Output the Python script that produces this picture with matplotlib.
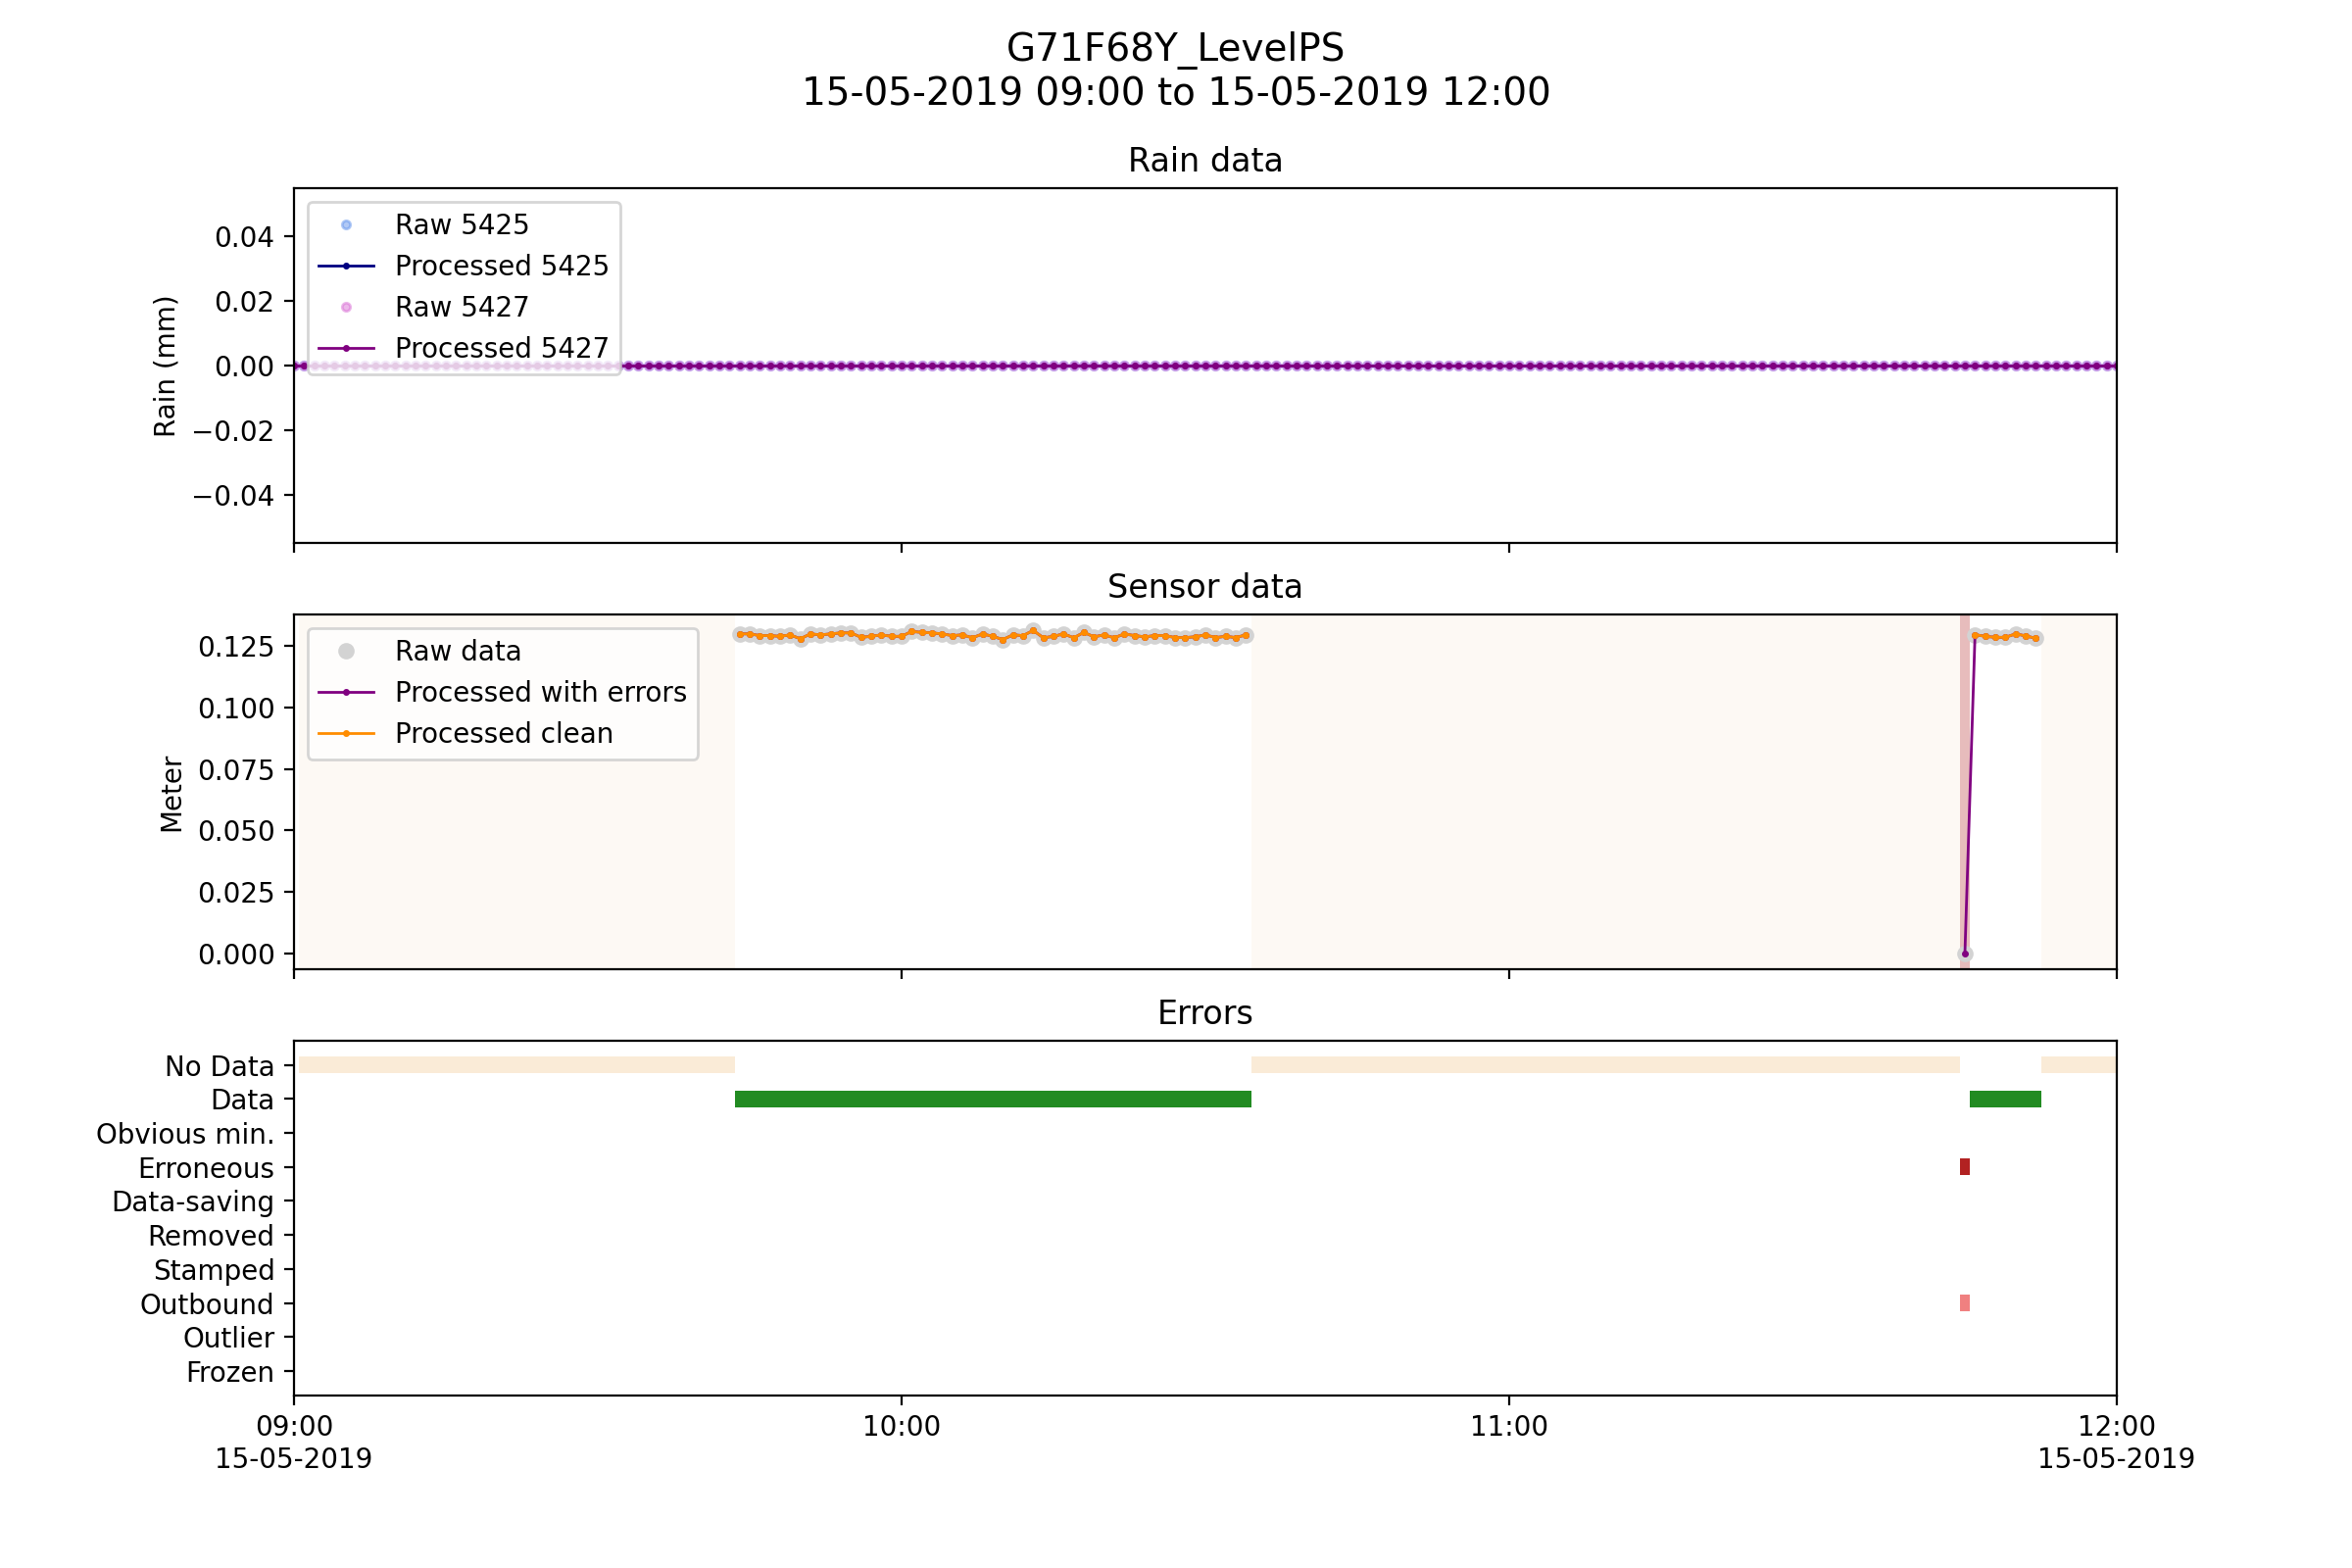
import numpy as np
import pandas as pd
import matplotlib
matplotlib.use("Agg")
import matplotlib.pyplot as plt
import matplotlib.dates as mdates

# ------------------------------------------------------| Data
day = "2019-05-15"
t_start = pd.Timestamp(day + " 09:00")
t_end = pd.Timestamp(day + " 12:00")

# Rain gauges, one sample per minute, no rain in the window
rain_times = pd.date_range(t_start, t_end, freq="1min")
rain_raw_5425 = np.zeros(len(rain_times))
rain_proc_5425 = np.zeros(len(rain_times))
rain_raw_5427 = np.zeros(len(rain_times))
rain_proc_5427 = np.zeros(len(rain_times))

# Level sensor, one sample per minute
sensor_times = pd.date_range(day + " 09:01", t_end, freq="1min")

seg1_start = day + " 09:44"
seg1_values = [0.1299, 0.1299, 0.1292, 0.1292, 0.1289, 0.1295, 0.1279, 0.1299,
               0.1295, 0.1299, 0.1303, 0.1303, 0.1285, 0.1289, 0.1295, 0.1289,
               0.1289, 0.1309, 0.1305, 0.1303, 0.1299, 0.1292, 0.1295, 0.1283,
               0.1299, 0.1289, 0.1276, 0.1295, 0.1292, 0.1313, 0.1283, 0.1289,
               0.1299, 0.1283, 0.1305, 0.1287, 0.1295, 0.1283, 0.1299, 0.1292,
               0.1287, 0.1292, 0.1292, 0.1284, 0.1284, 0.1287, 0.1295, 0.1284,
               0.1289, 0.1284, 0.1295]

seg2_start = day + " 11:45"
seg2_values = [0.0, 0.1296, 0.1289, 0.1285, 0.1285, 0.1299, 0.1291, 0.1281]

# flagged samples
erroneous_times = [day + " 11:45"]
outbound_times = [day + " 11:45"]

categories = ['No Data', 'Data', 'Obvious min.', 'Erroneous', 'Data-saving',
              'Removed', 'Stamped', 'Outbound', 'Outlier', 'Frozen']
cat_colors = {'No Data': 'antiquewhite', 'Data': 'forestgreen',
              'Erroneous': 'firebrick', 'Outbound': 'lightcoral'}

# ------------------------------------------------------| Prepare
level_raw = pd.Series(np.nan, index=sensor_times)
idx1 = pd.date_range(seg1_start, periods=len(seg1_values), freq="1min")
idx2 = pd.date_range(seg2_start, periods=len(seg2_values), freq="1min")
level_raw[idx1] = seg1_values
level_raw[idx2] = seg2_values

level_err = level_raw.copy()
level_clean = level_raw.copy()
level_clean[pd.to_datetime(erroneous_times)] = np.nan

flags = {}
flags['No Data'] = level_raw.isna().values
flags['Erroneous'] = sensor_times.isin(pd.to_datetime(erroneous_times))
flags['Outbound'] = sensor_times.isin(pd.to_datetime(outbound_times))
flags['Data'] = ~flags['No Data'] & ~flags['Erroneous']


def runs(times, mask):
    '''
    :param times: DatetimeIndex of the samples
    :param mask: boolean array, True where the flag is set
    :return: list of (start, width) in matplotlib date units, +-30 s per sample
    '''
    half = pd.Timedelta(seconds=30)
    out = []
    i = 0
    n = len(mask)
    while i < n:
        if mask[i]:
            j = i
            while j + 1 < n and mask[j + 1]:
                j += 1
            a = mdates.date2num(times[i] - half)
            b = mdates.date2num(times[j] + half)
            out.append((a, b - a))
            i = j + 1
        else:
            i += 1
    return out


# ------------------------------------------------------| Plotting
fig, axs = plt.subplots(3, 1, sharex=True, figsize=(12, 8))
fig.suptitle("G71F68Y_LevelPS\n%s to %s" % (t_start.strftime("%d-%m-%Y %H:%M"),
                                           t_end.strftime("%d-%m-%Y %H:%M")),
             fontsize=14)

# Rain
ax = axs[0]
ax.plot(rain_times, rain_raw_5425, 'o', color='cornflowerblue', alpha=0.5,
        markersize=3, label='Raw 5425')
ax.plot(rain_times, rain_proc_5425, '.-', color='navy', markersize=3,
        linewidth=1, label='Processed 5425')
ax.plot(rain_times, rain_raw_5427, 'o', color='orchid', alpha=0.5,
        markersize=3, label='Raw 5427')
ax.plot(rain_times, rain_proc_5427, '.-', color='purple', markersize=3,
        linewidth=1, label='Processed 5427')
ax.set_ylabel('Rain (mm)')
ax.set_title('Rain data')
ax.legend(loc='upper left')

# Sensor
ax = axs[1]
for a, w in runs(sensor_times, flags['No Data']):
    ax.axvspan(a, a + w, color='antiquewhite', alpha=0.25, linewidth=0)
for a, w in runs(sensor_times, flags['Erroneous']):
    ax.axvspan(a, a + w, color='firebrick', alpha=0.3, linewidth=0)
ax.plot(sensor_times, level_raw.values, 'o', color='lightgrey', markersize=5,
        label='Raw data')
ax.plot(sensor_times, level_err.values, '.-', color='purple', markersize=3,
        linewidth=1, label='Processed with errors')
ax.plot(sensor_times, level_clean.values, '.-', color='darkorange',
        markersize=3, linewidth=1, label='Processed clean')
ax.set_ylabel('Meter')
ax.set_title('Sensor data')
ax.legend(loc='upper left')

# Errors
ax = axs[2]
ypos = {c: len(categories) - i for i, c in enumerate(categories)}
for c in cat_colors:
    ax.broken_barh(runs(sensor_times, flags[c]), (ypos[c] - 0.25, 0.5),
                   facecolor=cat_colors[c], linewidth=0)
ax.set_yticks([ypos[c] for c in categories])
ax.set_yticklabels(categories)
ax.set_ylim(0.275, 10.725)
ax.set_title('Errors')

hours = pd.date_range(t_start, t_end, freq="1h")
labels = [h.strftime("%H:%M") for h in hours]
labels[0] += "\n" + hours[0].strftime("%d-%m-%Y")
labels[-1] += "\n" + hours[-1].strftime("%d-%m-%Y")
ax.set_xticks(mdates.date2num(hours))
ax.set_xticklabels(labels)
ax.set_xlim(t_start, t_end)

plt.savefig("out.png", dpi=200)
